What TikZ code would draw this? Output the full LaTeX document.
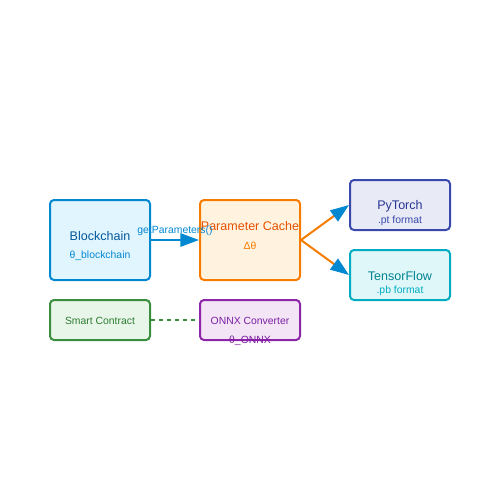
\documentclass[tikz,border=0pt]{standalone}
\usepackage{fontspec}
\setmainfont{Liberation Sans}
\usetikzlibrary{arrows.meta}
\definecolor{chainline}{HTML}{0288D1}
\definecolor{chainfill}{HTML}{E1F5FE}
\definecolor{chaintext}{HTML}{01579B}
\definecolor{cacheline}{HTML}{F57C00}
\definecolor{cachefill}{HTML}{FFF3E0}
\definecolor{cachetext}{HTML}{E65100}
\definecolor{torchline}{HTML}{3949AB}
\definecolor{torchfill}{HTML}{E8EAF6}
\definecolor{torchtext}{HTML}{283593}
\definecolor{flowline}{HTML}{00ACC1}
\definecolor{flowfill}{HTML}{E0F7FA}
\definecolor{flowtext}{HTML}{00838F}
\definecolor{contractline}{HTML}{388E3C}
\definecolor{contractfill}{HTML}{E8F5E9}
\definecolor{contracttext}{HTML}{2E7D32}
\definecolor{onnxline}{HTML}{8E24AA}
\definecolor{onnxfill}{HTML}{F3E5F5}
\definecolor{onnxtext}{HTML}{7B1FA2}
\tikzset{
	box/.style={draw, line width=1.5pt, rounded corners=3pt, minimum width=75pt, inner sep=0pt},
	title/.style={font=\fontsize{9.4}{10}\selectfont, inner sep=0pt},
	sub/.style={font=\fontsize{7.8}{8}\selectfont, inner sep=0pt},
	bluetip/.style={-{Triangle[length=14pt, width=10pt, color=chainline]}},
}
\begin{document}
\begin{tikzpicture}[x=0.75pt, y=-0.75pt]
			\useasboundingbox (0,0) rectangle (500,500);
			
			% boxes
			\node[box, draw=chainline, fill=chainfill, minimum height=60pt] (chain) at (100,240) {};
			\node[box, draw=cacheline, fill=cachefill, minimum height=60pt] (cache) at (250,240) {};
			\node[box, draw=torchline, fill=torchfill, minimum height=37.5pt] (torch) at (400,205) {};
			\node[box, draw=flowline, fill=flowfill, minimum height=37.5pt] (flow) at (400,275) {};
			\node[box, draw=contractline, fill=contractfill, minimum height=30pt] (contract) at (100,320) {};
			\node[box, draw=onnxline, fill=onnxfill, minimum height=30pt] (onnx) at (250,320) {};
			
			% texts
			\node[title, text=chaintext] (chaintitle) at (100,236) {Blockchain};
			\node[sub, text=chainline] (chainsub) at (100,256) {θ\_blockchain};
			\node[title, text=cachetext] (cachetitle) at (250,226) {Parameter Cache};
			\node[sub, text=cacheline] (cachesub) at (250,246) {Δθ};
			\node[title, text=torchtext] (torchtitle) at (400,206) {PyTorch};
			\node[sub, text=torchline] (torchsub) at (400,221) {.pt format};
			\node[title, text=flowtext] (flowtitle) at (400,276) {TensorFlow};
			\node[sub, text=flowline] (flowsub) at (400,291) {.pb format};
			\node[sub, text=contracttext] (contracttitle) at (100,321) {Smart Contract};
			\node[sub, text=onnxtext] (onnxtitle) at (250,321) {ONNX Converter};
			\node[sub, text=onnxtext] (onnxsub) at (250,341) {θ\_ONNX};
			
			% connectors
			\draw[bluetip, chainline, line width=1.5pt] (chain.east) -- (cache.west);
			\node[sub, text=chainline] (getlabel) at (175,231) {getParameters()};
			\foreach \t in {torch, flow}
			{
				\draw[bluetip, cacheline, line width=1.5pt] (cache.east) -- (\t.west);
			}
			\draw[contractline, line width=1.2pt, dashed] (contract.east) -- (onnx.west);
\end{tikzpicture}
\end{document}
